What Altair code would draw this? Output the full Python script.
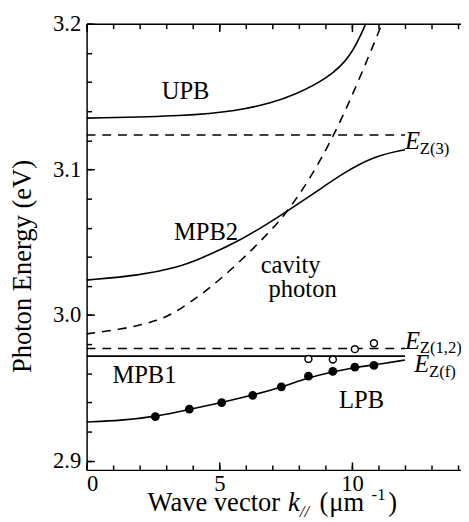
import altair as alt
import pandas as pd

FONT = "Liberation Serif"

# ---------------- data ----------------
# polariton branches (solid)
upb_k = [0, 3.79, 5.64, 7.0, 7.86, 9.10, 9.96, 10.52, 10.75]
upb_E = [3.1352, 3.1367, 3.1401, 3.1457, 3.1513, 3.1626, 3.1772, 3.1997, 3.2100]

mpb2_k = [0, 2.0, 3.42, 4.17, 5.89, 7.49, 8.97, 9.59, 10.83, 12.0]
mpb2_E = [3.0240, 3.0272, 3.0328, 3.0377, 3.0518, 3.0705, 3.0885, 3.0965, 3.1092, 3.1135]

lpb_k = [0, 1.3, 2.59, 3.87, 5.09, 6.26, 7.34, 8.36, 9.28, 10.11, 10.83, 12.0]
lpb_E = [2.9266, 2.9276, 2.9302, 2.9352, 2.9399, 2.9450, 2.9505, 2.9570, 2.9610, 2.9640, 2.9658, 2.9691]

# cavity photon (dashed)
cav_k = [0, 1.44, 2.68, 3.42, 5.15, 7.12, 7.62, 8.36, 9.34, 10.21, 11.13, 11.3]
cav_E = [2.9871, 2.9905, 2.9961, 3.0022, 3.0250, 3.0610, 3.0726, 3.0917, 3.1236, 3.1590, 3.1997, 3.2080]

# exciton levels
hline_k = [0, 12.0]
ez3 = 3.1236     # dashed
ez12 = 2.9770    # dashed
ezf = 2.9718     # solid

# measured points
filled_k = [2.59, 3.87, 5.09, 6.26, 7.34, 8.36, 9.28, 10.11, 10.83]
filled_E = [2.9302, 2.9354, 2.9399, 2.9449, 2.9507, 2.9580, 2.9614, 2.9642, 2.9654]
open_k = [8.36, 9.28, 10.11, 10.83]
open_E = [2.9699, 2.9695, 2.9766, 2.9806]

# curve labels
lab_text = ["UPB", "MPB2", "cavity", "photon", "MPB1", "LPB"]
lab_k = [3.73, 4.50, 7.69, 8.14, 2.18, 10.36]
lab_E = [3.1484, 3.0512, 3.0292, 3.0123, 2.9534, 2.9365]

# exciton level labels
ez_k = [12.0, 12.0, 12.35]
ez_E = [3.1142, 2.9770, 2.9609]
ez_sub = ["Z(3)", "Z(1,2)", "Z(f)"]

# axis ticks
x_major = [0, 5, 10]
x_minor = list(range(0, 15))
y_major = [2.9, 3.0, 3.1, 3.2]
y_minor = [round(2.9 + 0.02 * i, 2) for i in range(16)]

# ---------------- frames ----------------
def cdf(name, ks, Es):
    return pd.DataFrame({"k": ks, "E": Es, "name": name})

solid_df = pd.concat([
    cdf("UPB", upb_k, upb_E),
    cdf("MPB2", mpb2_k, mpb2_E),
    cdf("LPB", lpb_k, lpb_E),
    cdf("EZf", hline_k, [ezf] * 2),
])
dashed_df = pd.concat([
    cdf("cavity", cav_k, cav_E),
    cdf("EZ3", hline_k, [ez3] * 2),
    cdf("EZ12", hline_k, [ez12] * 2),
])
filled_df = pd.DataFrame({"k": filled_k, "E": filled_E})
open_df = pd.DataFrame({"k": open_k, "E": open_E})
lab_df = pd.DataFrame({"k": lab_k, "E": lab_E, "t": lab_text})
ez_df = pd.DataFrame({"k": ez_k, "E": ez_E, "sub": ez_sub})

W, H = 381, 454
xs = alt.Scale(domain=[0, 14.11], nice=False, zero=False)
ys = alt.Scale(domain=[2.8937, 3.2], nice=False, zero=False)


def axis(orient, values, size, labels=False, domain=False, **kw):
    return alt.Axis(orient=orient, values=values, tickSize={"expr": str(-size)},
                    labels=labels, domain=domain, grid=False, **kw)


x_bottom = axis("bottom", x_major, 8, labels=True, domain=True, title=None,
                labelPadding=11, labelBaseline="top")
x_top = axis("top", x_major, 8, domain=True, title=None)
x_bottom_minor = axis("bottom", x_minor, 5, title=None)
x_top_minor = axis("top", x_minor, 5, title=None)
y_left = axis("left", y_major, 8, labels=True, domain=True,
              title="Photon Energy (eV)", labelPadding=14, format=".1f",
              titleX=-51, titleY=246.5, titleFont=FONT, titleFontSize=27,
              titleFontWeight="normal", titleColor="black")
y_left_minor = axis("left", y_minor, 5, title=None)

line_kw = dict(color="black", strokeWidth=1.6, interpolate="basis", clip=True)

solid = alt.Chart(solid_df).mark_line(**line_kw).encode(
    x=alt.X("k:Q", scale=xs, axis=x_bottom),
    y=alt.Y("E:Q", scale=ys, axis=y_left),
    detail="name:N",
)
dashed = alt.Chart(dashed_df).mark_line(strokeDash=[9, 7], **line_kw).encode(
    x=alt.X("k:Q", scale=xs, axis=x_top),
    y=alt.Y("E:Q", scale=ys, axis=y_left_minor),
    detail="name:N",
)
filled = alt.Chart(filled_df).mark_circle(size=80, color="black", opacity=1).encode(
    x=alt.X("k:Q", scale=xs, axis=x_bottom_minor),
    y=alt.Y("E:Q", scale=ys, axis=None),
)
opened = alt.Chart(open_df).mark_point(shape="circle", size=50, filled=True, fill="white",
                                       stroke="black", strokeWidth=1.5, opacity=1).encode(
    x=alt.X("k:Q", scale=xs, axis=x_top_minor),
    y=alt.Y("E:Q", scale=ys, axis=None),
)
labels = alt.Chart(lab_df).mark_text(font=FONT, fontSize=25, color="black",
                                     align="center", baseline="alphabetic").encode(
    x=alt.X("k:Q", scale=xs, axis=None),
    y=alt.Y("E:Q", scale=ys, axis=None),
    text="t:N",
)
ez_main = alt.Chart(ez_df).mark_text(font=FONT, fontSize=25, fontStyle="italic", color="black",
                                     align="left", baseline="alphabetic").encode(
    x=alt.X("k:Q", scale=xs, axis=None),
    y=alt.Y("E:Q", scale=ys, axis=None),
    text=alt.value("E"),
)
ez_subs = alt.Chart(ez_df).mark_text(font=FONT, fontSize=17, color="black", dx=15, dy=5,
                                     align="left", baseline="alphabetic").encode(
    x=alt.X("k:Q", scale=xs, axis=None),
    y=alt.Y("E:Q", scale=ys, axis=None),
    text="sub:N",
)

# x-axis title pieces (mixed styles)
title_parts = ["Wave vector", "k", "//", "(", "\u03bcm", "-1", ")"]
title_df = pd.DataFrame({"t": title_parts})


def tpart(i, px, py, size, style="normal"):
    return alt.Chart(title_df.iloc[[i]]).mark_text(
        font=FONT, fontSize=size, fontStyle=style, color="black",
        align="left", baseline="alphabetic").encode(
        x=alt.value(px), y=alt.value(py), text="t:N")


ty = 496
xtitle = [
    tpart(0, 62, ty, 27),
    tpart(1, 205, ty, 27, "italic"),
    tpart(2, 217, ty + 6, 17, "italic"),
    tpart(3, 237, ty, 27),
    tpart(4, 247, ty, 27),
    tpart(5, 290, ty - 11, 17),
    tpart(6, 307, ty, 27),
]

chart = alt.layer(solid, dashed, filled, opened, labels, ez_main, ez_subs, *xtitle).resolve_axis(
    x="independent", y="independent"
).properties(
    width=W, height=H,
    autosize=alt.AutoSizeParams(type="none"),
    padding={"left": 80, "top": 11.5, "right": 0, "bottom": 48.5},
).configure(font=FONT).configure_view(stroke=None).configure_axis(
    labelFont=FONT, labelFontSize=23, labelColor="black", titleFont=FONT,
    tickColor="black", tickWidth=1.5, domainColor="black", domainWidth=1.5,
).configure_text(font=FONT)

chart.save("out.html", embed_options={"renderer": "svg", "actions": False})
